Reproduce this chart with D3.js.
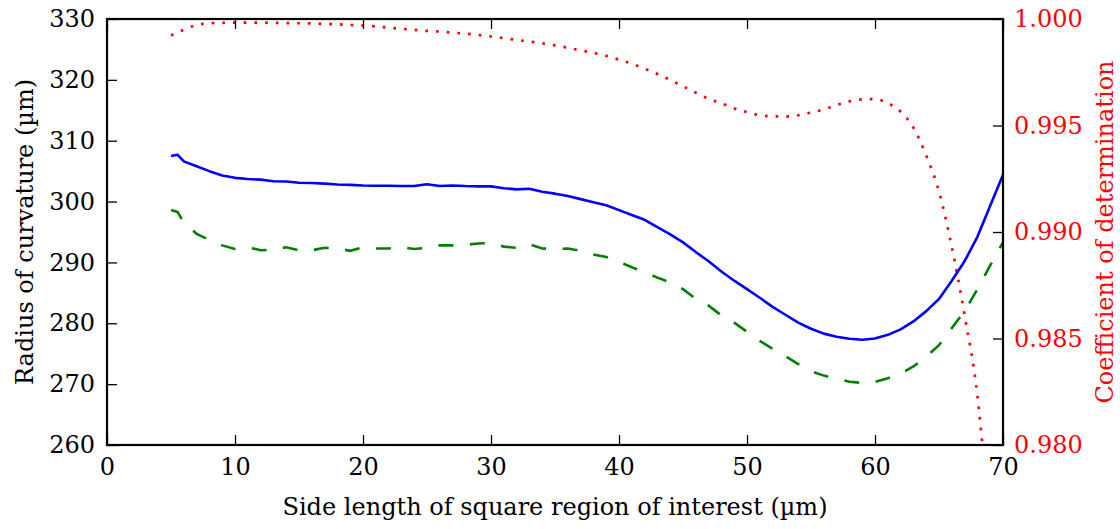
<!DOCTYPE html>
<html>
<head>
<meta charset="utf-8">
<script src="https://cdn.jsdelivr.net/npm/d3@7"></script>
<style>
  html, body { margin: 0; padding: 0; background: #fff; }
  svg { display: block; }
</style>
</head>
<body>
<svg id="chart" width="1120" height="529"></svg>
<script>
// Side length of the square region of interest (µm)
const sideLength = [5, 5.5, 6, 7, 8, 9, 10, 11, 12, 13, 14, 15, 16, 17, 18, 19, 20,
  21, 22, 23, 24, 25, 26, 27, 28, 29, 30, 31, 32, 33, 34, 35, 36, 37, 38, 39, 40,
  41, 42, 43, 44, 45, 46, 47, 48, 49, 50, 51, 52, 53, 54, 55, 56, 57, 58, 59, 60,
  61, 62, 63, 64, 65, 66, 67, 68, 69, 70];

// Radius of curvature, solid blue series (µm)
const radiusSolid = [307.5, 307.7, 306.6, 305.8, 305.0, 304.3, 303.9, 303.7, 303.6, 303.35,
  303.3, 303.1, 303.05, 302.95, 302.8, 302.75, 302.65, 302.6, 302.6, 302.55,
  302.55, 302.85, 302.55, 302.65, 302.55, 302.5, 302.5, 302.2, 302.0, 302.1,
  301.6, 301.3, 300.9, 300.4, 299.9, 299.4, 298.6, 297.8, 297.0, 295.8,
  294.6, 293.3, 291.7, 290.2, 288.5, 287.0, 285.6, 284.2, 282.7, 281.4,
  280.1, 279.1, 278.3, 277.8, 277.45, 277.3, 277.5, 278.1, 279.0, 280.3,
  282.0, 284.0, 287.0, 290.2, 294.2, 299.3, 304.4];

// Radius of curvature, dashed green series (µm)
const radiusDashed = [298.6, 298.3, 296.6, 294.7, 293.7, 292.8, 292.2, 292.5, 292.0, 292.1,
  292.5, 292.0, 292.0, 292.4, 292.3, 291.9, 292.5, 292.3, 292.3, 292.5,
  292.2, 292.4, 292.8, 292.8, 292.9, 293.1, 293.2, 292.6, 292.4, 293.0,
  292.3, 292.2, 292.3, 291.9, 291.3, 290.9, 290.1, 289.2, 288.4, 287.5,
  286.7, 285.6, 284.0, 282.9, 281.3, 280.1, 278.6, 277.1, 275.8, 274.6,
  273.3, 272.1, 271.4, 270.9, 270.4, 270.2, 270.35, 270.95, 271.7, 272.9,
  274.5, 276.4, 279.2, 282.0, 285.6, 289.5, 293.3];

// Coefficient of determination, dotted red series
const determination = [0.99923, 0.99936, 0.99950, 0.99972, 0.99980, 0.99982, 0.99983, 0.99983,
  0.99983, 0.99982, 0.99981, 0.99980, 0.99979, 0.99977, 0.99975, 0.99972, 0.99969,
  0.99965, 0.99959, 0.99954, 0.99949, 0.99944, 0.99941, 0.99936, 0.99931, 0.99925,
  0.99918, 0.99910, 0.99902, 0.99894, 0.99886, 0.99876, 0.99865, 0.99853, 0.99841,
  0.99827, 0.99809, 0.99790, 0.99767, 0.99742, 0.99714, 0.99684, 0.99654, 0.99625,
  0.99604, 0.99580, 0.99563, 0.99548, 0.99543, 0.99542, 0.99548, 0.99561, 0.99575,
  0.99596, 0.99613, 0.99623, 0.99624, 0.99605, 0.99566, 0.99490, 0.99360, 0.99190,
  0.98930, 0.98610, 0.98230, 0.97550, 0.96600];

const xTicks = [0, 10, 20, 30, 40, 50, 60, 70];
const leftTicks = [260, 270, 280, 290, 300, 310, 320, 330];
const rightTicks = [0.980, 0.985, 0.990, 0.995, 1.000];

const FONT = "DejaVu Serif";
const FONT_SIZE = 24;

const svg = d3.select("#chart");
const margin = { left: 107, top: 19, right: 1120 - 1003, bottom: 529 - 445 };
const width = 1120 - margin.left - margin.right;
const height = 529 - margin.top - margin.bottom;

const x = d3.scaleLinear().domain([0, 70]).range([0, width]);
const yLeft = d3.scaleLinear().domain([260, 330]).range([height, 0]);
const yRight = d3.scaleLinear().domain([0.980, 1.000]).range([height, 0]);

const g = svg.append("g").attr("transform", `translate(${margin.left},${margin.top})`);

g.append("defs").append("clipPath").attr("id", "plot-clip")
  .append("rect").attr("width", width).attr("height", height);

const lines = g.append("g").attr("clip-path", "url(#plot-clip)");

const leftLine = d3.line()
  .x((d, i) => x(sideLength[i]))
  .y(d => yLeft(d));

const rightLine = d3.line()
  .x((d, i) => x(sideLength[i]))
  .y(d => yRight(d))
  .curve(d3.curveMonotoneX);

lines.append("path")
  .datum(determination)
  .attr("d", rightLine)
  .attr("fill", "none")
  .attr("stroke", "#ff0000")
  .attr("stroke-width", 2.7)
  .attr("stroke-dasharray", "2.7,8");

lines.append("path")
  .datum(radiusDashed)
  .attr("d", leftLine)
  .attr("fill", "none")
  .attr("stroke", "#008000")
  .attr("stroke-width", 2.6)
  .attr("stroke-dasharray", "15,16.5");

lines.append("path")
  .datum(radiusSolid)
  .attr("d", leftLine)
  .attr("fill", "none")
  .attr("stroke", "#0000ff")
  .attr("stroke-width", 2.6)
  .attr("stroke-linejoin", "round");

// Axes with inward ticks
function styleAxis(sel, color) {
  sel.attr("font-family", FONT).attr("font-size", FONT_SIZE);
  sel.select(".domain").remove();
  sel.selectAll(".tick line").attr("stroke", "#000").attr("stroke-width", 1.3);
  sel.selectAll(".tick text").attr("fill", color);
}

g.append("g")
  .attr("transform", `translate(0,${height})`)
  .call(d3.axisBottom(x).tickValues(xTicks).tickSize(-10).tickPadding(13).tickFormat(d3.format("d")))
  .call(s => styleAxis(s, "#000"));

g.append("g")
  .call(d3.axisTop(x).tickValues(xTicks).tickSize(-10).tickFormat(""))
  .call(s => styleAxis(s, "#000"));

g.append("g")
  .call(d3.axisLeft(yLeft).tickValues(leftTicks).tickSize(-10).tickPadding(12).tickFormat(d3.format("d")))
  .call(s => styleAxis(s, "#000"));

g.append("g")
  .attr("transform", `translate(${width},0)`)
  .call(d3.axisRight(yRight).tickValues(rightTicks).tickSize(-10).tickPadding(11).tickFormat(d3.format(".3f")))
  .call(s => styleAxis(s, "#ff0000"));

// Frame
g.append("rect")
  .attr("width", width).attr("height", height)
  .attr("fill", "none").attr("stroke", "#000").attr("stroke-width", 2.2);

// Axis titles
svg.append("text")
  .attr("x", margin.left + width / 2).attr("y", 515)
  .attr("text-anchor", "middle")
  .attr("font-family", FONT).attr("font-size", FONT_SIZE)
  .attr("fill", "#000")
  .text("Side length of square region of interest (µm)");

svg.append("text")
  .attr("transform", `translate(33,${margin.top + height / 2}) rotate(-90)`)
  .attr("text-anchor", "middle")
  .attr("font-family", FONT).attr("font-size", FONT_SIZE)
  .attr("fill", "#000")
  .text("Radius of curvature (µm)");

svg.append("text")
  .attr("transform", `translate(1113,${margin.top + height / 2}) rotate(-90)`)
  .attr("text-anchor", "middle")
  .attr("font-family", FONT).attr("font-size", FONT_SIZE)
  .attr("fill", "#ff0000")
  .text("Coefficient of determination");
</script>
</body>
</html>
